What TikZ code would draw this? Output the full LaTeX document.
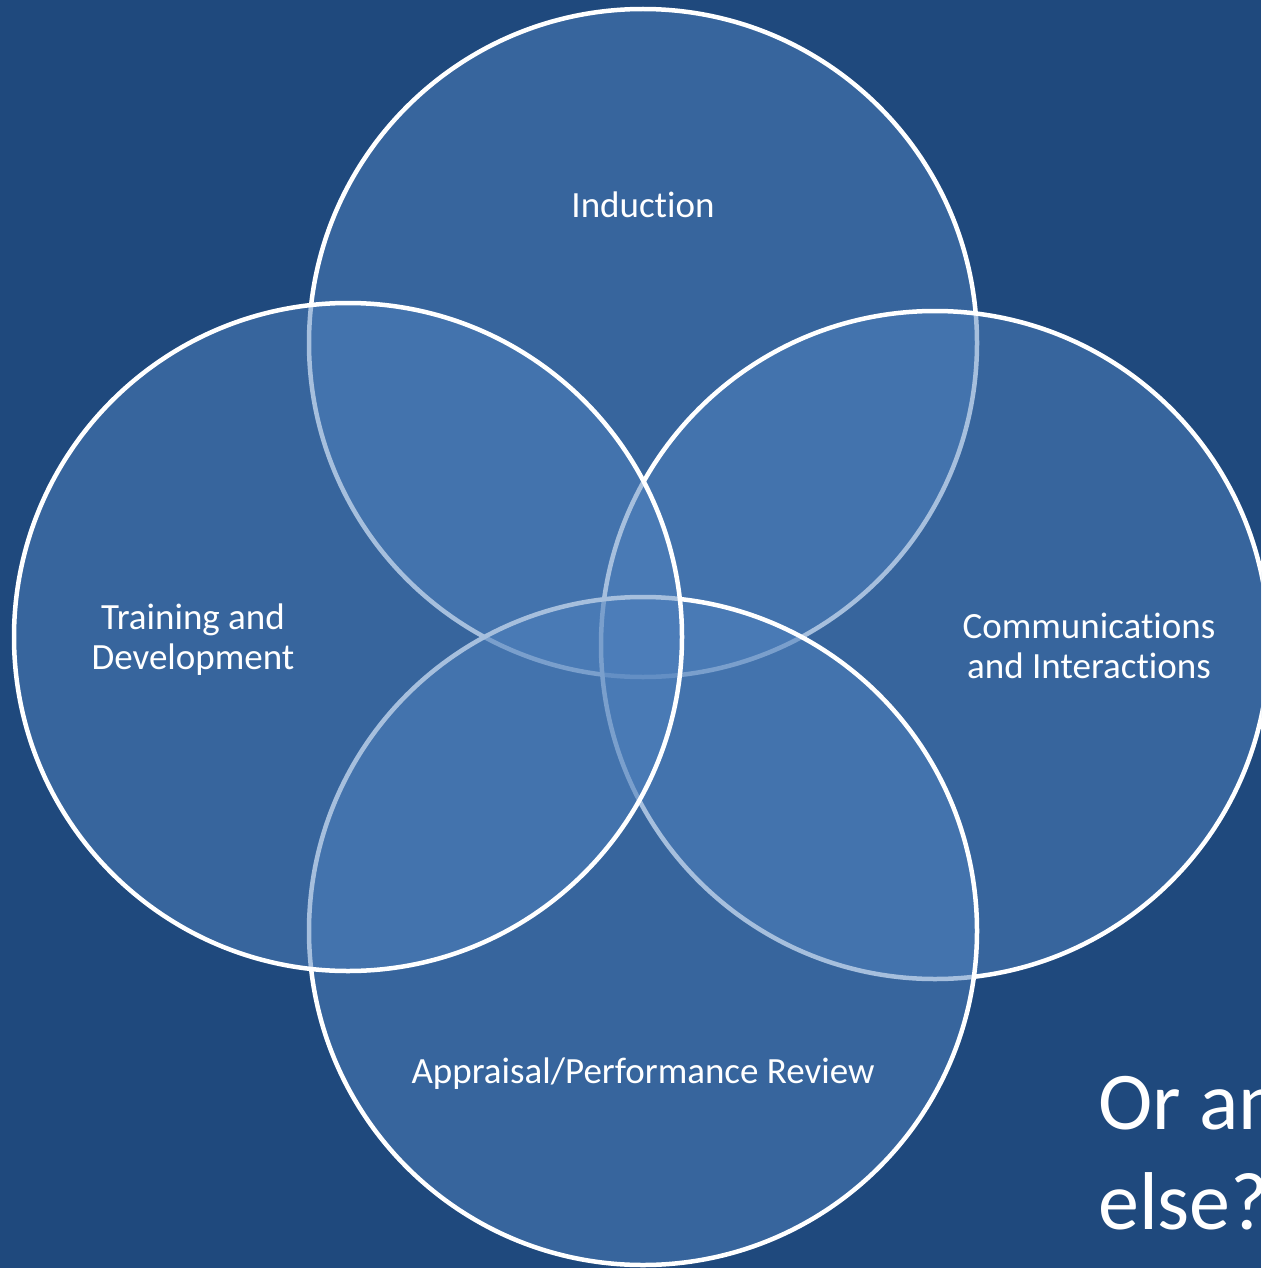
\documentclass[tikz,border=0pt]{standalone}
\usepackage{fontspec}
\setmainfont{Carlito}[Ligatures=NoCommon]
\definecolor{slidebg}{HTML}{1F497D}
\definecolor{vennfill}{HTML}{4F81BD}
\begin{document}
\begin{tikzpicture}[x=1pt,y=-1pt,
  venn/.style={circle, minimum size=668pt, inner sep=0pt, draw=white, line width=4.5pt,
               fill=vennfill, fill opacity=0.5, draw opacity=1},
  lbl/.style={text=white, font=\fontsize{37}{40}\selectfont, align=center, inner sep=0pt},
  bigtxt/.style={text=white, font=\fontsize{82}{100}\selectfont, align=left, inner sep=0pt}]
  % background and page frame
  \fill[slidebg] (0,0) rectangle (1261,1268);
  \useasboundingbox (0,0) rectangle (1261,1268);
  \clip (0,0) rectangle (1261,1268);
  % overlapping circles, later ones veil earlier outlines
  \node[venn] (induct) at (643,343) {};
  \node[venn] (comms)  at (935,645) {};
  \node[venn] (apprai) at (643,931) {};
  \node[venn] (train)  at (348,637) {};
  % circle captions
  \node[lbl] (tInduct) at (643,205) {Induction};
  \node[lbl] (tComms)  at (1089,646) {Communications\\and Interactions};
  \node[lbl] (tApprai) at (643,1074) {Appraisal/Performance Review};
  \node[lbl] (tTrain)  at (193,640) {Training and\\Development};
  % side question
  \node[bigtxt, anchor=base west] (tOther) at (1098,1229) {Or anything\\else?};
\end{tikzpicture}
\end{document}
